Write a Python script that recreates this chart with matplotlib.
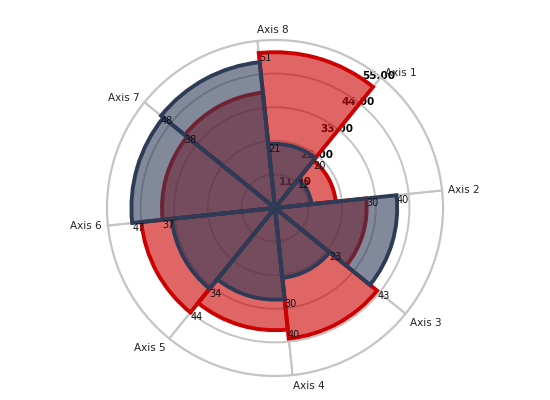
import numpy as np
import matplotlib.pyplot as plt

# Data
axes_labels = ['Axis 1', 'Axis 2', 'Axis 3', 'Axis 4', 'Axis 5', 'Axis 6', 'Axis 7', 'Axis 8']
red_values = [20, 30, 43, 40, 44, 37, 38, 51]
blue_values = [12, 40, 23, 30, 34, 47, 48, 21]
ticks = [11, 22, 33, 44, 55]
tick_labels = ['11.00', '22.00', '33.00', '44.00', '55.00']

red = '#cc0000'
navy = '#2e3b57'

n = len(axes_labels)
offset = -6  # degrees, start of the Axis 1 sector measured from the "Axis 8" line
starts = np.deg2rad(offset + 45 + 45 * np.arange(n) - 45)
starts = np.deg2rad((offset + 45 * (np.arange(n) + 1)) % 360)
width = np.deg2rad(45)

fig = plt.figure(figsize=(5.5, 4), dpi=100)
ax = fig.add_axes([0.1945, 0.06, 0.611, 0.84], projection='polar')
ax.set_theta_zero_location('N')
ax.set_theta_direction(-1)
ax.set_ylim(0, 55)

# Grid
ax.set_xticks(starts)
ax.set_xticklabels([])
ax.set_yticks(ticks[:-1])
ax.set_yticklabels([])
ax.grid(color='#c4c4c4', linewidth=1.4)
ax.spines['polar'].set_color('#c4c4c4')
ax.spines['polar'].set_linewidth(1.6)
# extend spokes a bit outside
for t in starts:
    ax.plot([t, t], [0, 55], color='#c4c4c4', lw=1.4, zorder=0.5, clip_on=False)

# Tick labels along the Axis 1 direction
lab_theta = np.deg2rad(38)
for v, s in zip(ticks, tick_labels):
    ax.text(lab_theta, v, s, ha='center', va='center', fontsize=7.5,
            fontweight='bold', color='black', zorder=1)

# Bars
ax.bar(starts, red_values, width=width, align='edge', color=red, alpha=0.6,
       zorder=2)
ax.bar(starts, red_values, width=width, align='edge', fill=False,
       edgecolor=red, linewidth=2.8, zorder=2.5)
ax.bar(starts, blue_values, width=width, align='edge', color=navy, alpha=0.6,
       zorder=3)
ax.bar(starts, blue_values, width=width, align='edge', fill=False,
       edgecolor=navy, linewidth=2.8, zorder=3.5)

# Value labels at the start corner of each bar
for t, v in zip(starts, red_values):
    ax.text(t, v, str(v), ha='left', va='top', fontsize=7, color='#111111', zorder=4)
for t, v in zip(starts, blue_values):
    ax.text(t, v, str(v), ha='left', va='top', fontsize=7, color='#111111', zorder=4)

# Axis labels
for t, s in zip(starts, axes_labels):
    st, ct = np.sin(t), np.cos(t)
    ha = 'left' if st > -0.15 else 'right'
    if ct > 0.9:
        va = 'bottom'
    elif ct < -0.5:
        va = 'top'
    else:
        va = 'center'
    ax.text(t, 57, s, ha=ha, va=va, fontsize=7.5, color='#222222', zorder=5)

fig.savefig('out.png', dpi=100)
